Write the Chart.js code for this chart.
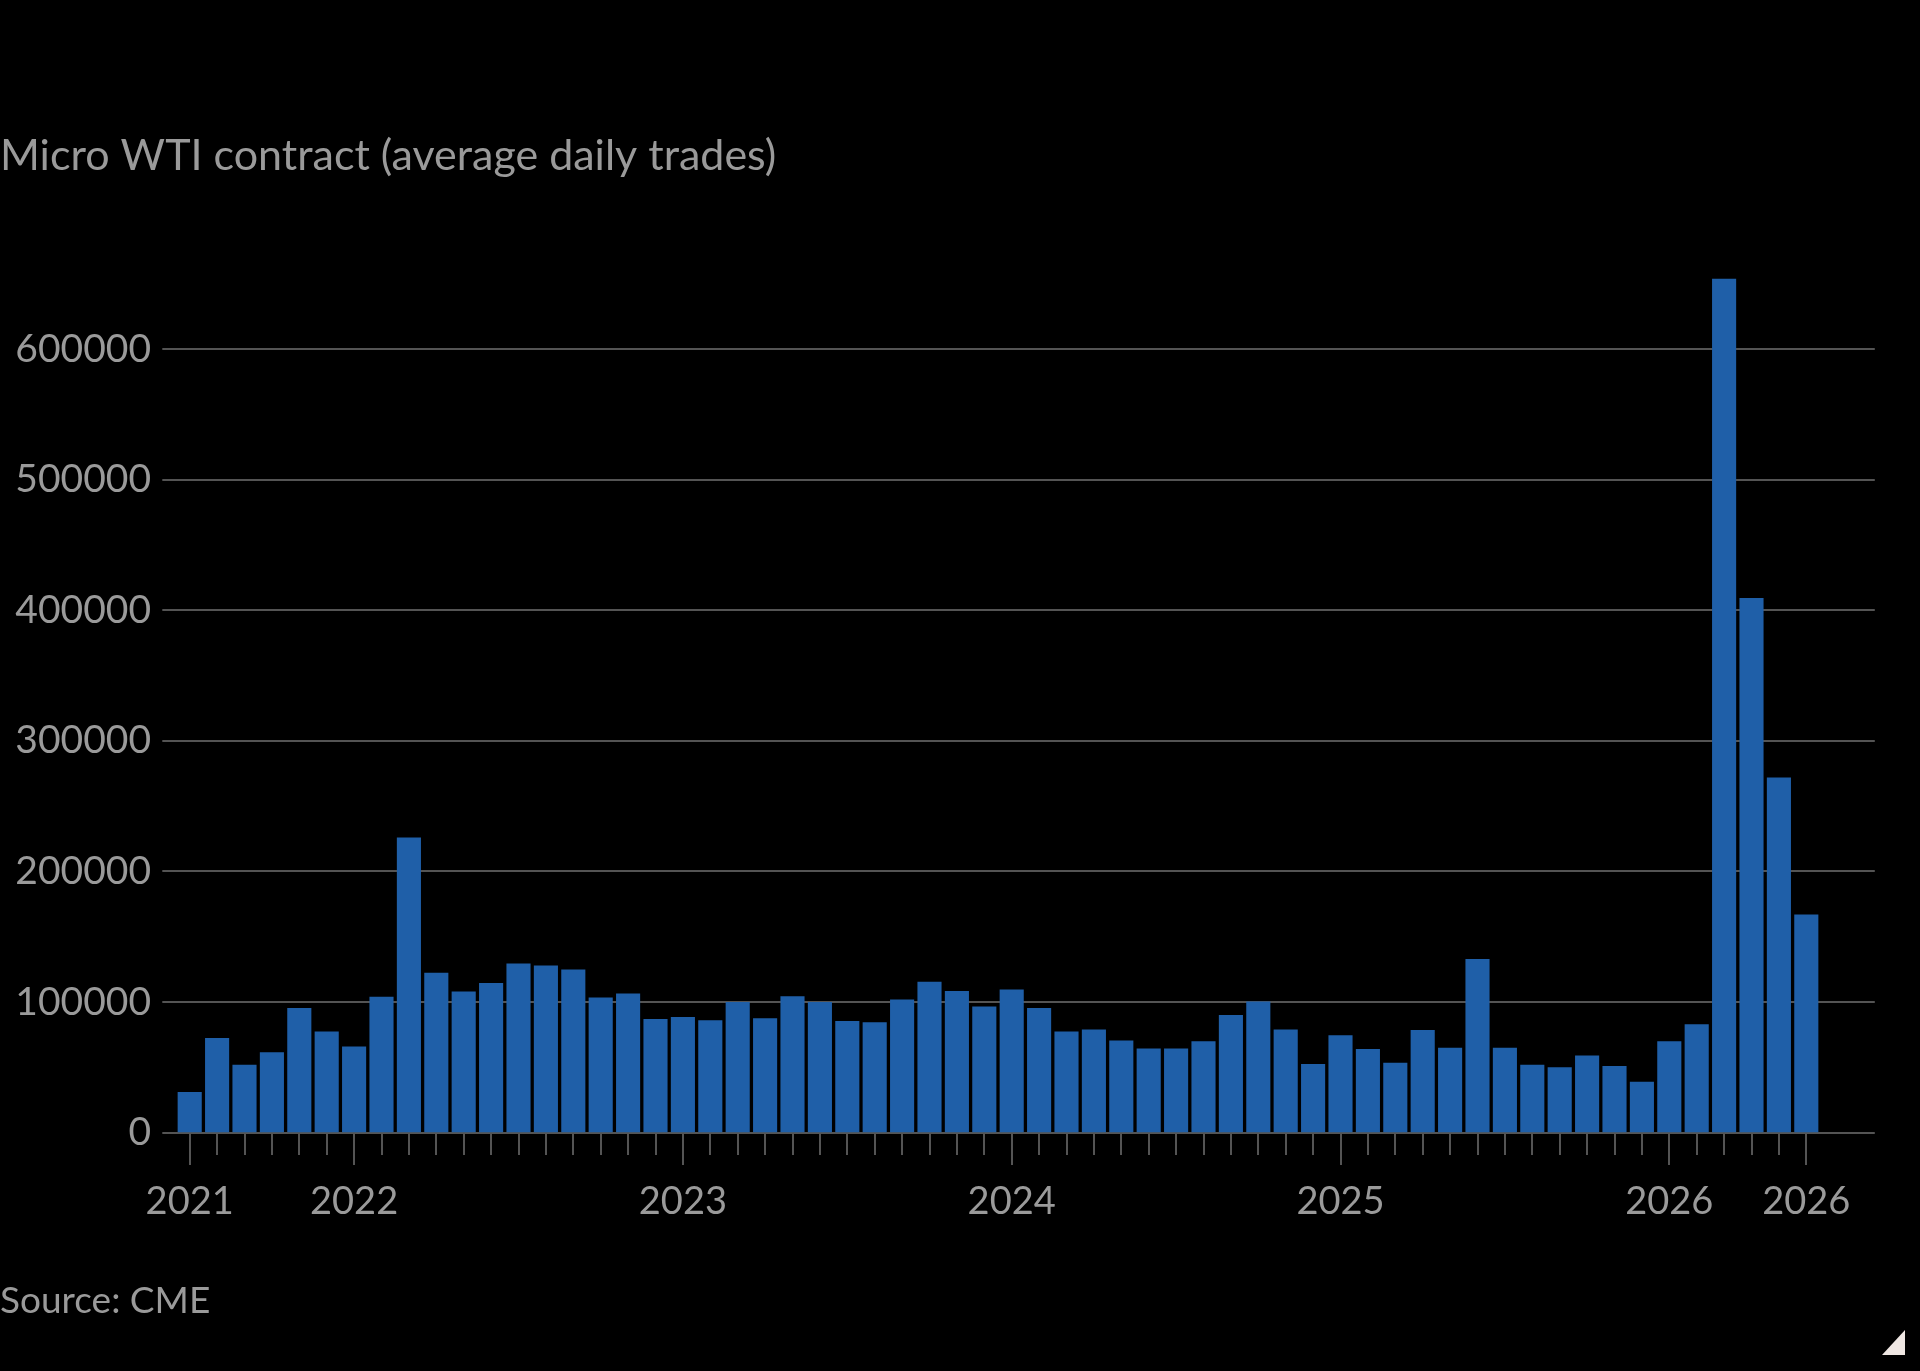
<!DOCTYPE html>
<html><head><meta charset="utf-8">
<script src="https://cdn.jsdelivr.net/npm/chart.js@4.4.1/dist/chart.umd.min.js"></script>
<style>
html,body{margin:0;padding:0;background:#000;}
#wrap{position:relative;width:1920px;height:1371px;background:#000;}
#corner{position:absolute;left:1882px;top:1330px;width:0;height:0;border-left:23px solid transparent;border-bottom:25px solid #efe7e3;}
</style></head><body>
<div id="wrap"><canvas id="c" width="1920" height="1371"></canvas><div id="corner"></div></div>
<script>
const months = [
 'Jul 2021','Aug 2021','Sep 2021','Oct 2021','Nov 2021','Dec 2021',
 'Jan 2022','Feb 2022','Mar 2022','Apr 2022','May 2022','Jun 2022','Jul 2022','Aug 2022','Sep 2022','Oct 2022','Nov 2022','Dec 2022',
 'Jan 2023','Feb 2023','Mar 2023','Apr 2023','May 2023','Jun 2023','Jul 2023','Aug 2023','Sep 2023','Oct 2023','Nov 2023','Dec 2023',
 'Jan 2024','Feb 2024','Mar 2024','Apr 2024','May 2024','Jun 2024','Jul 2024','Aug 2024','Sep 2024','Oct 2024','Nov 2024','Dec 2024',
 'Jan 2025','Feb 2025','Mar 2025','Apr 2025','May 2025','Jun 2025','Jul 2025','Aug 2025','Sep 2025','Oct 2025','Nov 2025','Dec 2025',
 'Jan 2026','Feb 2026','Mar 2026','Apr 2026','May 2026','Jun 2026'
];
const trades = [
 31000, 72500, 52000, 61500, 95500, 77500,
 66000, 104000, 226000, 122500, 108000, 114500, 129500, 128000, 125000, 103500, 106500, 87000,
 88500, 86000, 100000, 87500, 104500, 100000, 85500, 84500, 102000, 115500, 108500, 96500,
 109500, 95500, 77500, 79000, 70500, 64500, 64500, 70000, 90000, 100500, 79000, 52500,
 74500, 64000, 53500, 78500, 65000, 133000, 65000, 52000, 50000, 59000, 51000, 39000,
 70000, 83000, 654000, 409500, 272000, 167000
];
const yTickValues = [0, 100000, 200000, 300000, 400000, 500000, 600000];
const yMax = 700000;
const xTickIndex = [0, 6, 18, 30, 42, 54, 59];
const xTickText = ['2021', '2022', '2023', '2024', '2025', '2026', '2026'];

const FONT = 'Lato, "Open Sans", sans-serif';
const GREY = '#9a9a9a';
const GRID = '#545454';
const BAR = '#1f5fa8';

const ftPlugin = {
  id: 'ftGrid',
  beforeDatasetsDraw(chart) {
    const {ctx, chartArea, scales: {x, y}} = chart;
    const step = x.getPixelForValue(1) - x.getPixelForValue(0);
    const l = chartArea.left - step * 0.5;
    const r = chartArea.right + step * 2;
    ctx.save();
    ctx.strokeStyle = GRID; ctx.lineWidth = 2;
    y.ticks.forEach(t => {
      const py = Math.round(y.getPixelForValue(t.value));
      ctx.beginPath(); ctx.moveTo(l, py); ctx.lineTo(r, py); ctx.stroke();
    });
    ctx.restore();
  },
  afterDatasetsDraw(chart) {
    const {ctx, chartArea, scales: {x}} = chart;
    const base = Math.round(chartArea.bottom);
    ctx.save();
    ctx.strokeStyle = GRID; ctx.lineWidth = 2;
    months.forEach((m, i) => {
      const px = Math.round(x.getPixelForValue(i));
      const len = xTickIndex.includes(i) ? 32 : 22;
      ctx.beginPath(); ctx.moveTo(px, base); ctx.lineTo(px, base + len); ctx.stroke();
    });
    ctx.restore();
  }
};

new Chart(document.getElementById('c'), {
  type: 'bar',
  data: {
    labels: months,
    datasets: [{data: trades, backgroundColor: BAR, borderWidth: 0, barPercentage: 0.88, categoryPercentage: 1}]
  },
  options: {
    responsive: false, animation: false, events: [],
    layout: {padding: {left: 0, right: 100, top: 0, bottom: 0}},
    plugins: {
      legend: {display: false}, tooltip: {enabled: false},
      title: {display: true, text: 'Micro WTI contract (average daily trades)', align: 'start', color: GREY,
        font: {family: FONT, size: 43, weight: 'normal'}, padding: {top: 130, bottom: 37}},
      subtitle: {display: true, position: 'bottom', text: 'Source: CME', align: 'start', color: GREY,
        font: {family: FONT, size: 37, weight: 'normal'}, padding: {top: 0, bottom: 48}}
    },
    scales: {
      x: {
        grid: {display: false, drawTicks: false}, border: {display: false},
        ticks: {autoSkip: false, maxRotation: 0, minRotation: 0, padding: 46, color: GREY,
          font: {family: FONT, size: 38},
          callback: (v, i) => { const k = xTickIndex.indexOf(i); return k >= 0 ? xTickText[k] : ''; }},
        afterFit: s => { s.height = 146; }
      },
      y: {
        min: 0, max: yMax,
        grid: {display: false, drawTicks: false}, border: {display: false},
        afterBuildTicks: s => { s.ticks = yTickValues.map(v => ({value: v})); },
        ticks: {padding: 25, color: GREY, font: {family: FONT, size: 39}, callback: v => String(v)},
        afterFit: s => { s.width = 176; }
      }
    }
  },
  plugins: [ftPlugin]
});
</script>
</body></html>
